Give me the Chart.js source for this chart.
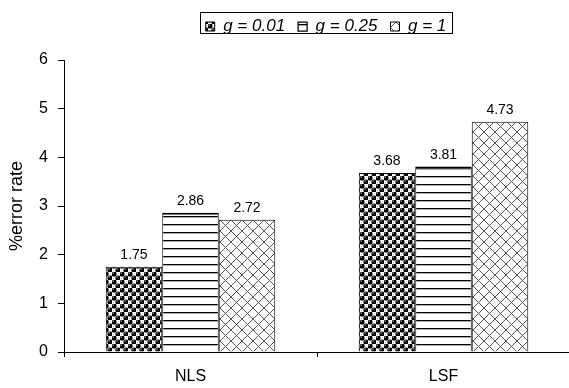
<!DOCTYPE html>
<html>
<head>
<meta charset="utf-8">
<script src="https://cdn.jsdelivr.net/npm/chart.js@4"></script>
<style>
  html, body { margin: 0; padding: 0; background: #fff; overflow: hidden; }
  #wrap { width: 572px; height: 388px; position: relative; }
</style>
</head>
<body>
<div id="wrap"><canvas id="c"></canvas></div>
<script>
const categories = ['NLS', 'LSF'];
const seriesNames = ['g = 0.01', 'g = 0.25', 'g = 1'];
const g001 = [1.75, 3.68];
const g025 = [2.86, 3.81];
const g1 = [2.72, 4.73];
const yTicks = [0, 1, 2, 3, 4, 5, 6];

function makeTile(w, h, draw) {
  const c = document.createElement('canvas');
  c.width = w; c.height = h;
  const x = c.getContext('2d');
  x.fillStyle = '#fff';
  x.fillRect(0, 0, w, h);
  draw(x);
  return document.getElementById('c').getContext('2d').createPattern(c, 'repeat');
}
const dotPattern = makeTile(8, 8, x => {
  const balls = [[2, 2], [6, 6]];
  balls.forEach(([cx, cy]) => {
    x.fillStyle = '#000';
    x.beginPath(); x.arc(cx, cy, 2.6, 0, Math.PI * 2); x.fill();
    x.fillStyle = '#aaa';
    x.beginPath(); x.arc(cx - 0.9, cy - 0.9, 0.8, 0, Math.PI * 2); x.fill();
  });
});
const linePattern = makeTile(8, 8, x => {
  x.fillStyle = '#000';
  x.fillRect(0, 0, 8, 1);
  x.fillStyle = '#777';
  x.fillRect(0, 1, 8, 0.6);
});
const hatchPattern = makeTile(11, 11, x => {
  x.strokeStyle = '#555';
  x.lineWidth = 1;
  x.beginPath();
  x.moveTo(0, 0); x.lineTo(11, 11);
  x.moveTo(11, 0); x.lineTo(0, 11);
  x.stroke();
});

const LEGEND_SHIFT = 39;
const LEGEND_EXTRA = 15;
const legendTweak = {
  id: 'legendTweak',
  beforeUpdate(chart) {
    const lg = chart.legend;
    if (lg && !lg._patchedFit) {
      const orig = lg.fit;
      lg.fit = function () { orig.call(this); this.height += LEGEND_EXTRA; };
      lg._patchedFit = true;
    }
  },
  afterLayout(chart) {
    const lg = chart.legend;
    lg.left += LEGEND_SHIFT;
    lg.right += LEGEND_SHIFT;
  },
  afterDraw(chart) {
    const lg = chart.legend;
    const pad = lg.options.labels.padding;
    const lw = lg.lineWidths[0];
    const startX = (lg.left + pad + lg.right - lw) / 2;
    const ctx = chart.ctx;
    ctx.save();
    ctx.strokeStyle = '#000';
    ctx.lineWidth = 1;
    ctx.strokeRect(Math.round(startX - 6) + 0.5, 12.5, Math.round(lw - pad + 11), 21);
    ctx.restore();
  }
};

const valueLabels = {
  id: 'valueLabels',
  afterDatasetsDraw(chart) {
    const ctx = chart.ctx;
    ctx.save();
    ctx.font = '14px "Liberation Sans", Arial, sans-serif';
    ctx.fillStyle = '#000';
    ctx.textAlign = 'center';
    ctx.textBaseline = 'alphabetic';
    chart.data.datasets.forEach((ds, i) => {
      chart.getDatasetMeta(i).data.forEach((bar, j) => {
        ctx.fillText(ds.data[j].toFixed(2), bar.x, bar.y - 8);
      });
    });
    ctx.restore();
  }
};

const FONT = '"Liberation Sans", Arial, sans-serif';

new Chart(document.getElementById('c'), {
  type: 'bar',
  data: {
    labels: categories,
    datasets: [
      { label: seriesNames[0], data: g001, backgroundColor: dotPattern, borderColor: '#000', borderWidth: 1 },
      { label: seriesNames[1], data: g025, backgroundColor: linePattern, borderColor: '#000', borderWidth: { top: 2, left: 1, right: 1, bottom: 1 } },
      { label: seriesNames[2], data: g1, backgroundColor: hatchPattern, borderColor: '#000', borderWidth: 1 }
    ]
  },
  options: {
    responsive: true,
    maintainAspectRatio: false,
    animation: false,
    devicePixelRatio: 1,
    layout: { padding: { left: 4, right: 2, top: 5, bottom: 0 } },
    datasets: { bar: { categoryPercentage: 0.67, barPercentage: 1.0 } },
    plugins: {
      legend: {
        position: 'top',
        align: 'center',
        labels: {
          boxWidth: 9,
          boxHeight: 9,
          padding: 13,
          color: '#000',
          font: { family: FONT, size: 17, style: 'italic' }
        }
      },
      tooltip: { enabled: false }
    },
    scales: {
      x: {
        grid: { display: true, drawOnChartArea: false, offset: true, tickLength: 5, color: '#000' },
        border: { display: true, color: '#000', width: 1 },
        ticks: { color: '#000', font: { family: FONT, size: 16 }, padding: 10 },
        afterFit(scale) { scale.height = 36; }
      },
      y: {
        min: 0,
        max: 6,
        afterBuildTicks(scale) { scale.ticks = yTicks.map(v => ({ value: v })); },
        grid: { display: true, drawOnChartArea: false, tickLength: 6, color: '#000' },
        border: { display: true, color: '#000', width: 1 },
        ticks: { color: '#000', font: { family: FONT, size: 16 }, padding: 10 },
        title: {
          display: true,
          text: '%error rate',
          color: '#000',
          font: { family: FONT, size: 18 },
          padding: { top: 2, bottom: 4 }
        },
        afterFit(scale) { scale.width = 60; }
      }
    }
  },
  plugins: [legendTweak, valueLabels]
});
</script>
</body>
</html>
